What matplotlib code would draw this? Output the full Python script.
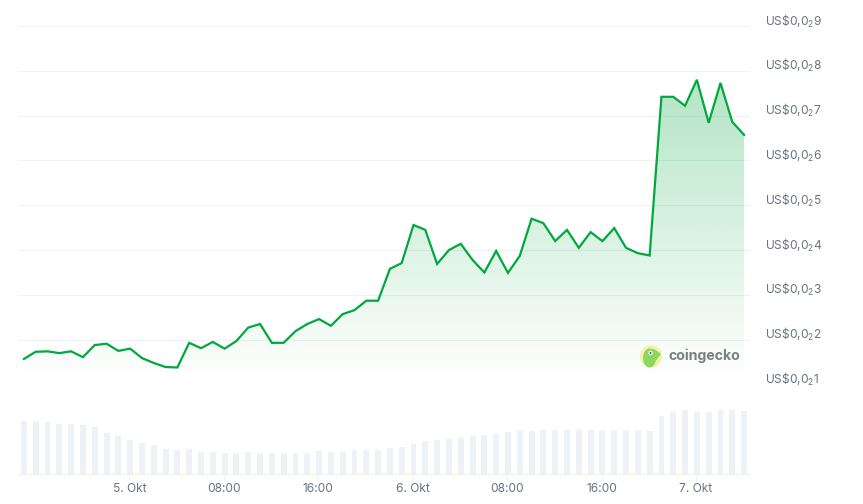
import matplotlib.pyplot as plt
from matplotlib.patches import Circle, Ellipse, Polygon
import numpy as np

plt.rcParams['font.family'] = ['Inter', 'DejaVu Sans']
plt.rcParams['mathtext.fontset'] = 'custom'
plt.rcParams['mathtext.rm'] = 'Inter'
plt.rcParams['mathtext.default'] = 'rm'

# price in units of 0.00x, one point per hour
price = [1.57, 1.73, 1.74, 1.70, 1.74, 1.61, 1.88, 1.91, 1.75, 1.80, 1.59, 1.48, 1.39, 1.38,
         1.93, 1.81, 1.95, 1.80, 1.97, 2.27, 2.35, 1.93, 1.93, 2.19, 2.35, 2.46, 2.31, 2.57,
         2.66, 2.87, 2.87, 3.58, 3.71, 4.56, 4.45, 3.69, 4.00, 4.14, 3.78, 3.50, 3.98, 3.49,
         3.87, 4.70, 4.60, 4.20, 4.45, 4.05, 4.40, 4.20, 4.49, 4.05, 3.93, 3.88, 7.42, 7.42,
         7.22, 7.80, 6.84, 7.73, 6.86, 6.57]
volume = [53, 53, 52, 50, 50, 49, 47, 41, 38, 34, 31, 29, 25, 24, 25, 22, 22, 21, 21, 22,
          21, 21, 21, 21, 21, 23, 22, 22, 24, 24, 24, 26, 27, 30, 33, 34, 35, 37, 38, 39,
          40, 42, 43, 43, 44, 44, 44, 45, 44, 44, 44, 44, 44, 43, 58, 62, 64, 62, 62.5, 64,
          64, 63]
price_ticks = [1, 2, 3, 4, 5, 6, 7, 8, 9]
time_ticks = [8.93, 16.93, 24.93, 32.93, 40.93, 48.93, 56.93]
time_labels = ['5. Okt', '08:00', '16:00', '6. Okt', '08:00', '16:00', '7. Okt']
hours = np.arange(len(price))

W, H = 863, 504
GREEN = '#00a83e'
GRID = '#eff1f4'
TEXT = '#6b7280'
BAR = '#eef1f5'


def px_axes(left, top, right, bottom):
    return fig.add_axes([left / W, 1 - bottom / H, (right - left) / W, (bottom - top) / H])


fig = plt.figure(figsize=(W / 100, H / 100), dpi=100)

# volume bars
ax_vol = px_axes(18, 396, 750, 474)
ax_vol.bar(hours, volume, width=0.5, color=BAR)
ax_vol.set_xlim(-0.5, 61.5)
ax_vol.set_ylim(0, 78)
ax_vol.set_yticks([])
ax_vol.set_xticks(time_ticks)
ax_vol.set_xticklabels(time_labels, fontsize=8.6, color=TEXT)
ax_vol.tick_params(axis='x', length=4, width=0.8, color=GRID, pad=2.5)
for s in ['top', 'left', 'right']:
    ax_vol.spines[s].set_visible(False)
ax_vol.spines['bottom'].set_color(GRID)
ax_vol.patch.set_visible(False)

# price line with the gradient under it
ax = px_axes(18, 26, 750, 384.5)
ax.patch.set_visible(False)
ax.set_xlim(-0.5, 61.5)
ax.set_ylim(1, 9)
ax.set_yticks(price_ticks)
ax.tick_params(axis='y', length=0, labelleft=False)
ax.set_xticks([])
ax.grid(axis='y', color=GRID, linewidth=0.8)
ax.set_axisbelow(True)
for s in ax.spines.values():
    s.set_visible(False)
# labels sit a little above their grid line
for t in price_ticks:
    ax.annotate(f'US\\$0,0$_{{2}}${t}', xy=(1, t), xycoords=('axes fraction', 'data'),
                xytext=(10.8, 3.6), textcoords='offset points',
                fontsize=8.6, color=TEXT, va='center', ha='left')

fill = ax.fill_between(hours, price, 1, color='none')
grad = np.zeros((256, 2, 4))
grad[:, :, 1] = 168 / 255
grad[:, :, 2] = 62 / 255
grad[:, :, 3] = np.linspace(0.30, 0, 256)[:, None]
img = ax.imshow(grad, extent=[hours[0], hours[-1], 1, max(price)], aspect='auto', zorder=1)
img.set_clip_path(fill.get_paths()[0], transform=ax.transData)
ax.set_xlim(-0.5, 61.5)
ax.set_ylim(1, 9)
ax.plot(hours, price, color=GREEN, linewidth=1.6, zorder=3, solid_joinstyle='miter')

# watermark
ax_logo = fig.add_axes([0, 0, 1, 1], zorder=5)
ax_logo.set_xlim(0, W)
ax_logo.set_ylim(H, 0)
ax_logo.axis('off')
ax_logo.add_patch(Circle((651, 356.5), 11, color='#f4f0a8', lw=0))
ax_logo.add_patch(Ellipse((649.5, 358), 13, 19, color='#8bd85f', lw=0))
ax_logo.add_patch(Polygon([(648, 349), (654, 349), (661, 354), (655, 362), (648, 367)], color='#8bd85f', lw=0))
ax_logo.add_patch(Circle((650.5, 353), 2.2, color='white', lw=0))
ax_logo.add_patch(Circle((650.5, 353), 1.0, color='#4a5a3a', lw=0))
ax_logo.text(668.5, 356, 'coingecko', fontsize=10.2, fontweight='bold', color='#7a7f87', va='center', ha='left')

fig.savefig('out.png', dpi=100)
